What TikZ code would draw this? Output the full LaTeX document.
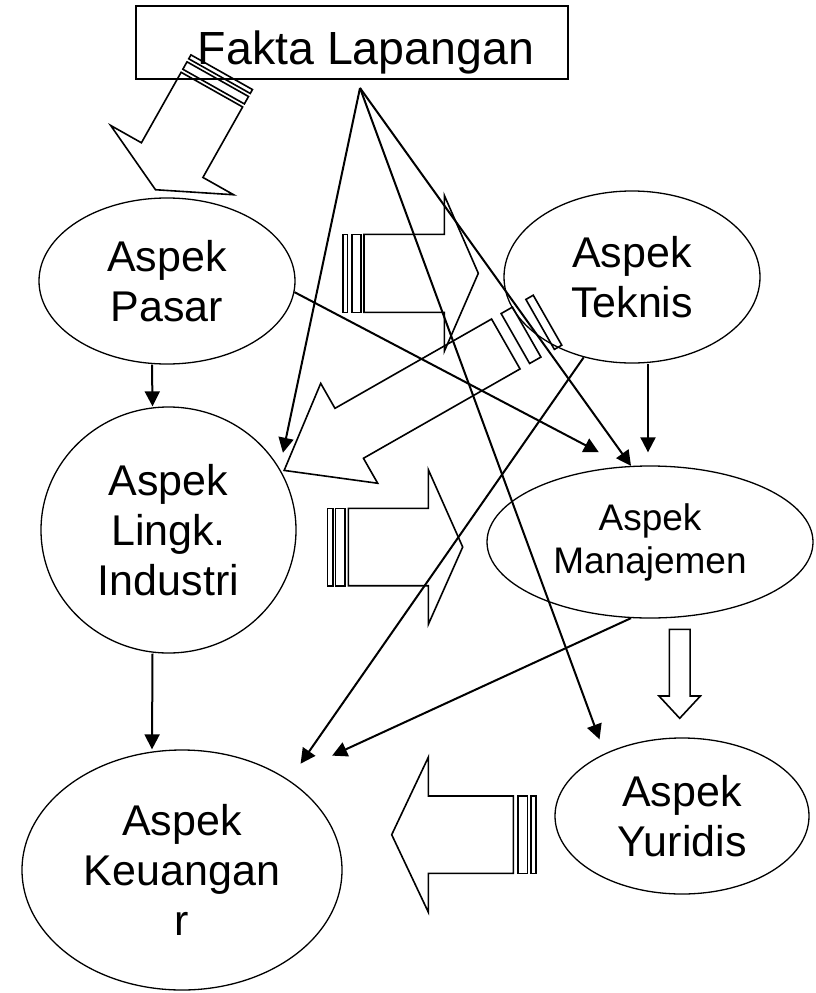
\documentclass[tikz,border=0pt]{standalone}
\usepackage{fontspec}
\setmainfont{Liberation Sans}
\usetikzlibrary{arrows.meta,shapes.geometric,positioning}
\tikzset{
  every picture/.style = {
    x = 1pt,
    y = -1pt
  }
  ,
  fact/.style = {
    rectangle,
    draw,
    line width = 2pt,
    inner sep = 0pt,
    minimum width = 432pt,
    minimum height = 73pt,
    text height = 43pt,
    text depth = 0pt,
    font = \fontsize{46.5}{54}\selectfont
  }
  ,
  aspect/.style = {
    ellipse,
    draw,
    line width = 1.3pt,
    inner sep = 0pt,
    align = center,
    font = \fontsize{43}{50}\selectfont
  }
  , % arrows between aspects
  link/.style = {
    line width = 2pt,
    -{Triangle[length=15pt,width=15pt]}
  }
  , % outlines of the block arrows
  blockline/.style = {
    line width = 1.6pt,
    line join = miter
  }
}
% block arrow along local x: body from #3 to #4, tip at #5, body half width #6
\newcommand{\blockarrow}[6]{%
  \begin{scope}[shift={#1}, rotate=#2]
    \draw[blockline] (#3,-#6) -- (#4,-#6) -- (#4,-2*#6) -- (#5,0)
      -- (#4,2*#6) -- (#4,#6) -- (#3,#6) -- cycle;
  \end{scope}}
% the same, with stripes #7 (from/to) behind the body
\newcommand{\stripedarrow}[7]{%
  \blockarrow{#1}{#2}{#3}{#4}{#5}{#6}
  \begin{scope}[shift={#1}, rotate=#2]
    \foreach \a/\b in {#7}
      \draw[blockline] (\a,-#6) -- (\b,-#6) -- (\b,#6) -- (\a,#6) -- cycle;
  \end{scope}}

\begin{document}
\begin{tikzpicture}
  \useasboundingbox (0,0) rectangle (815,993);

  \node [fact] (fakta) at (352,42.5) {\hspace*{28pt}Fakta Lapangan};
  \node [aspect, minimum width=256pt, minimum height=166pt] (pasar) at (167,281) {Aspek\\Pasar};
  \node [aspect, minimum width=256pt, minimum height=172pt] (teknis) at (632,277) {Aspek\\Teknis};
  \node [aspect, minimum width=255pt, minimum height=246pt] (lingk) at (168.5,530) {Aspek\\Lingk.\\Industri};
  \node [aspect, minimum width=326pt, minimum height=152pt,
         font=\fontsize{37}{43}\selectfont] (mana) at (650,542) {Aspek\\Manajemen};
  \node [aspect, minimum width=254pt, minimum height=156pt] (yuri) at (682,816) {Aspek\\Yuridis};
  \node [aspect, minimum width=320pt, minimum height=240pt] (keu) at (182,870) {Aspek\\Keuangan\\r};

  \coordinate (apex) at ([xshift=8pt,yshift=-8pt]fakta.south);

  \path[link]
    ([xshift=-15pt]pasar.south) edge ([xshift=-16pt]lingk.north)
    ([xshift=-16pt]lingk.south) edge ([xshift=-30pt]keu.north)
    ([xshift=16pt]teknis.south) edge ([xshift=-2pt,yshift=13pt]mana.north)
    (pasar.-5) edge[shorten >=30pt] (mana.108)
    (apex) edge[shorten >=16pt] (lingk.29)
    (apex) edge (mana.104)
    (apex) edge[shorten >=15pt] (yuri.141)
    (teknis.-121) edge[shorten >=20pt] (keu.40)
    (mana.-104) edge[shorten >=52pt] (keu.42);

  % fakta to pasar
  \stripedarrow{(221.7,72.2)}{-119.4}{20}{100.9}{134.9}{35.3}{0/4.5, 8/16.5}
  % pasar to teknis
  \stripedarrow{(342.7,273.3)}{0}{21.3}{101.6}{135.6}{39}{0/4.6, 9/18}
  % lingk to manajemen
  \stripedarrow{(327.3,547)}{0}{21}{101}{135.4}{38.7}{0/5.4, 8/17.7}
  % yuridis to keuangan
  \stripedarrow{(536,834.7)}{180}{22.7}{107.7}{144.3}{38.7}{0/5.3, 8.7/18.3}
  % teknis to lingk
  \stripedarrow{(547.5,320.2)}{-150.3}{48}{228.3}{303.2}{28.75}{0/8.5, 24/37}
  % manajemen to yuridis
  \blockarrow{(679.7,629.3)}{-90}{0}{66.7}{89}{10.35}
\end{tikzpicture}
\end{document}
